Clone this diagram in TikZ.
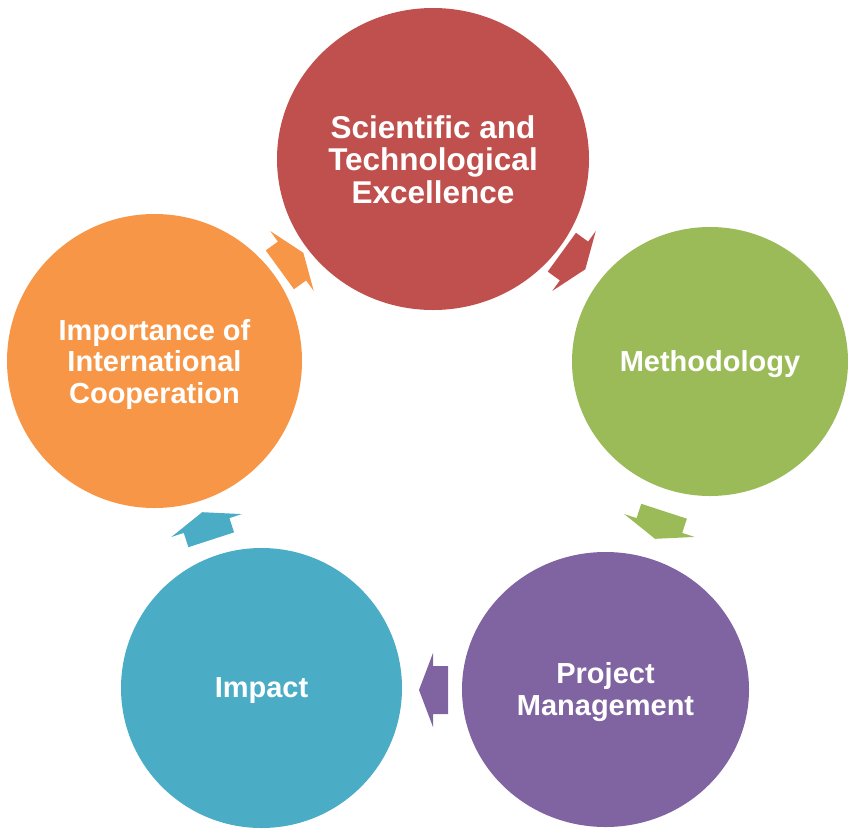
\documentclass[tikz,border=0pt]{standalone}
\usepackage{fontspec}
\setmainfont{Liberation Sans}
\usetikzlibrary{shapes.geometric}
\definecolor{cred}{HTML}{C0504D}
\definecolor{cgreen}{HTML}{9BBB59}
\definecolor{cpurple}{HTML}{8064A2}
\definecolor{cteal}{HTML}{4BACC6}
\definecolor{corange}{HTML}{F79646}
\tikzset{
  bubble/.style={ellipse, inner sep=0pt, draw=none},
  txt/.style={inner sep=0pt, text=white, align=center,
    font=\fontsize{29}{31.5}\selectfont\bfseries},
  bigtxt/.style={txt, font=\fontsize{31.5}{32.5}\selectfont\bfseries},
  cyclearrow/.style={fill=#1, draw=none}
}
\newcommand{\cyclearrowshape}[3]{%
  \fill[cyclearrow=#3, shift={(#1)}, rotate=#2]
    (-15pt,-24pt) -- (0pt,-24pt) -- (0pt,-37pt) -- (14pt,0pt) --
    (0pt,37pt) -- (0pt,24pt) -- (-15pt,24pt) -- cycle;}
\begin{document}
\begin{tikzpicture}[x=1pt,y=-1pt]
\useasboundingbox (0,0) rectangle (848,828);
% circles
\node[bubble, fill=cred, minimum width=312pt, minimum height=302pt] (sci) at (433,159) {};
\node[bubble, fill=cgreen, minimum width=276pt, minimum height=269pt] (meth) at (710,361.5) {};
\node[bubble, fill=cpurple, minimum width=287pt, minimum height=275pt] (pm) at (605.5,689.5) {};
\node[bubble, fill=cteal, minimum width=281pt, minimum height=280pt] (imp) at (261.5,688) {};
\node[bubble, fill=corange, minimum width=295pt, minimum height=294pt] (intl) at (154.5,361) {};
% labels
\node[bigtxt] (scit) at ([yshift=-0.5pt]sci.center) {Scientific and\\Technological\\Excellence};
\node[txt] (metht) at ([yshift=-3pt]meth.center) {Methodology};
\node[txt] (pmt) at ([yshift=-2.5pt]pm.center) {Project\\Management};
\node[txt] (impt) at ([yshift=-3pt]imp.center) {Impact};
\node[txt] (intlt) at ([yshift=-3pt]intl.center) {Importance of\\International\\Cooperation};
% arrow anchor points on the cycle (centre 433,452; radius 238)
\coordinate (a1) at (574,261);
\coordinate (a2) at (659.4,525.5);
\coordinate (a3) at (433,690);
\coordinate (a4) at (206.6,525.5);
\coordinate (a5) at (292,261);
\cyclearrowshape{a1}{-36}{cred}
\cyclearrowshape{a2}{-108}{cgreen}
\cyclearrowshape{a3}{180}{cpurple}
\cyclearrowshape{a4}{108}{cteal}
\cyclearrowshape{a5}{36}{corange}
\end{tikzpicture}
\end{document}
